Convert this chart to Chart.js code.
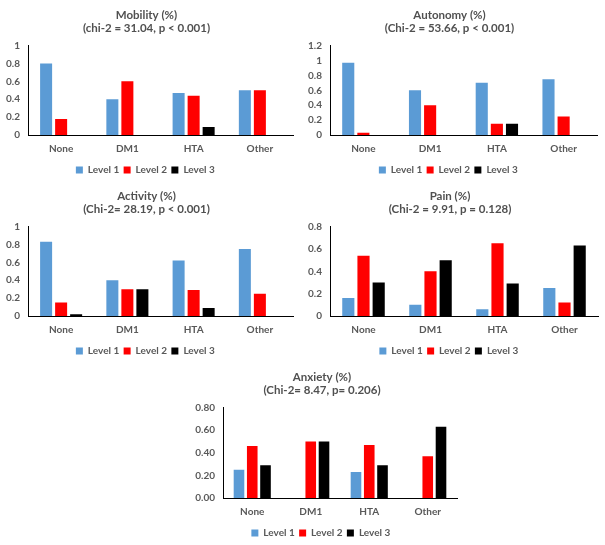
<!DOCTYPE html>
<html>
<head>
<meta charset="utf-8">
<script src="https://cdn.jsdelivr.net/npm/chart.js@4.4.1/dist/chart.umd.min.js"></script>
<style>
  body { margin: 0; background: #fff; }
  .caja { position: absolute; }
</style>
</head>
<body>
<div class="caja" style="left:0px;top:0px;width:300px;height:178px;"><canvas id="g1"></canvas></div>
<div class="caja" style="left:302px;top:0px;width:303px;height:178px;"><canvas id="g2"></canvas></div>
<div class="caja" style="left:0px;top:181px;width:300px;height:178px;"><canvas id="g3"></canvas></div>
<div class="caja" style="left:302px;top:181px;width:303px;height:178px;"><canvas id="g4"></canvas></div>
<div class="caja" style="left:187px;top:362px;width:310px;height:180px;"><canvas id="g5"></canvas></div>
<script>
// Categorias y niveles
const categorias = ['None', 'DM1', 'HTA', 'Other'];
const niveles = ['Level 1', 'Level 2', 'Level 3'];

// Mobility
const movilidadN1 = [0.80, 0.40, 0.47, 0.50];
const movilidadN2 = [0.18, 0.60, 0.44, 0.50];
const movilidadN3 = [0, 0, 0.09, 0];

// Autonomy
const autonomiaN1 = [0.97, 0.60, 0.70, 0.75];
const autonomiaN2 = [0.03, 0.40, 0.15, 0.25];
const autonomiaN3 = [0, 0, 0.15, 0];

// Activity
const actividadN1 = [0.83, 0.40, 0.62, 0.75];
const actividadN2 = [0.15, 0.30, 0.29, 0.25];
const actividadN3 = [0.02, 0.30, 0.09, 0];

// Pain
const dolorN1 = [0.16, 0.10, 0.06, 0.25];
const dolorN2 = [0.54, 0.40, 0.65, 0.12];
const dolorN3 = [0.30, 0.50, 0.29, 0.63];

// Anxiety
const ansiedadN1 = [0.25, 0, 0.23, 0];
const ansiedadN2 = [0.46, 0.50, 0.47, 0.37];
const ansiedadN3 = [0.29, 0.50, 0.29, 0.63];

const COLORES = ['#5B9BD5', '#FF0000', '#000000'];
const FUENTE = 'Lato, "Open Sans", sans-serif';
const GRIS = '#595959';

function crearGrafico(id, titulo, series, maximo, decimales, izquierda, derecha, abajo) {
    const ctx = document.getElementById(id).getContext('2d');
    return new Chart(ctx, {
        type: 'bar',
        data: {
            labels: categorias,
            datasets: series.map((datos, i) => ({
                label: niveles[i],
                data: datos,
                backgroundColor: COLORES[i],
                borderWidth: 0,
                categoryPercentage: 0.68,
                barPercentage: 0.8
            }))
        },
        options: {
            responsive: true,
            maintainAspectRatio: false,
            animation: false,
            layout: { padding: { left: 0, right: derecha, top: 4, bottom: abajo } },
            plugins: {
                title: {
                    display: true,
                    text: titulo,
                    color: '#505050',
                    font: { family: FUENTE, size: 11.5, weight: 'bold', lineHeight: 1.2 },
                    padding: { top: 4, bottom: 10 }
                },
                legend: {
                    position: 'bottom',
                    labels: {
                        boxWidth: 7,
                        boxHeight: 7,
                        padding: 2,
                        color: GRIS,
                        font: { family: FUENTE, size: 10, weight: 'bold' },
                        generateLabels: function(grafico) {
                            const items = Chart.defaults.plugins.legend.labels.generateLabels(grafico);
                            items.forEach(it => { it.text = it.text + ' '; });
                            return items;
                        }
                    }
                },
                tooltip: { enabled: false }
            },
            scales: {
                x: {
                    grid: { display: false, drawTicks: false },
                    border: { color: '#000', width: 1 },
                    ticks: {
                        color: GRIS,
                        padding: 8,
                        font: { family: FUENTE, size: 10, weight: 'bold' }
                    }
                },
                y: {
                    min: 0,
                    max: maximo,
                    grid: { display: false, drawTicks: false },
                    border: { color: '#000', width: 1 },
                    afterFit: function(escala) { escala.width = izquierda; },
                    ticks: {
                        stepSize: 0.2,
                        autoSkip: false,
                        color: GRIS,
                        padding: 8,
                        font: { family: FUENTE, size: 10, weight: 'bold' },
                        callback: function(valor) {
                            return decimales ? valor.toFixed(2) : String(Math.round(valor * 10) / 10);
                        }
                    }
                }
            }
        }
    });
}

crearGrafico('g1', ['Mobility (%)', '(chi-2 = 31.04, p < 0.001)'],
    [movilidadN1, movilidadN2, movilidadN3], 1, false, 28, 7, -7);
crearGrafico('g2', ['Autonomy (%)', '(Chi-2 = 53.66, p < 0.001)'],
    [autonomiaN1, autonomiaN2, autonomiaN3], 1.2, false, 28, 8, -7);
crearGrafico('g3', ['Activity (%)', '(Chi-2= 28.19, p < 0.001)'],
    [actividadN1, actividadN2, actividadN3], 1, false, 28, 7, -7);
crearGrafico('g4', ['Pain (%)', '(Chi-2 = 9.91, p = 0.128)'],
    [dolorN1, dolorN2, dolorN3], 0.8, false, 28, 7, -7);
crearGrafico('g5', ['Anxiety (%)', '(Chi-2= 8.47, p= 0.206)'],
    [ansiedadN1, ansiedadN2, ansiedadN3], 0.8, true, 36, 40, -6);
</script>
</body>
</html>
